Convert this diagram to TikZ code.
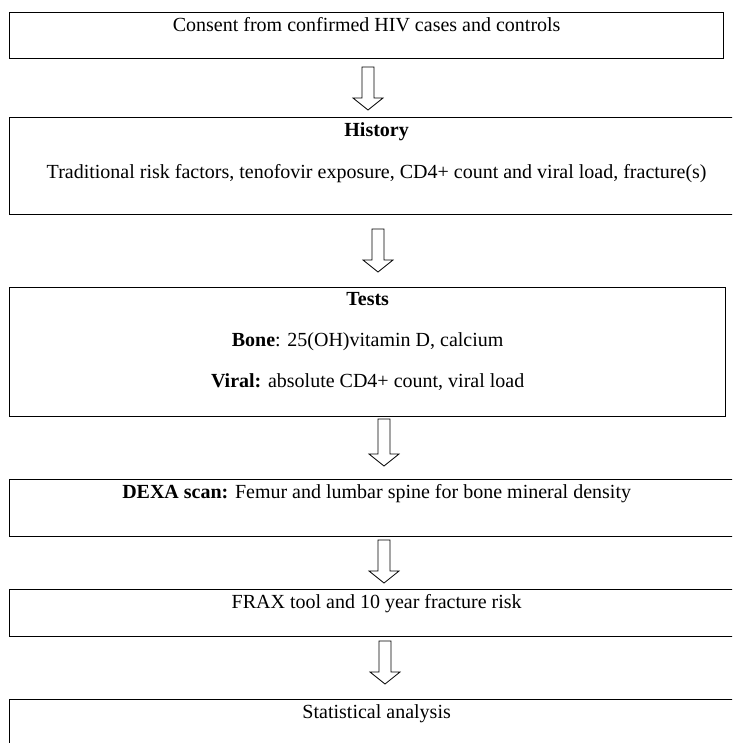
\documentclass[tikz,border=0pt]{standalone}
\usepackage{fontspec}
\setmainfont{Liberation Serif}
\usetikzlibrary{positioning}

\tikzset{
  flowbox/.style={draw, line width=1.3pt, anchor=north west, inner sep=0pt},
  flowtext/.style={inner sep=0pt, align=center, font=\fontsize{20}{22}\selectfont},
  hollowarrow/.style={draw, line width=0.8pt, fill=white, line join=miter},
}

\begin{document}
\begin{tikzpicture}[x=1pt,y=-1pt]
    \useasboundingbox (0,0) rectangle (732,743);
    \clip (0,0) rectangle (732,743);

    % boxes
    \node[flowbox, minimum width=714pt, minimum height=46pt]  (consent) at (9,12)  {};
    \node[flowbox, minimum width=734pt, minimum height=97pt]  (history) at (9,117) {};
    \node[flowbox, minimum width=716pt, minimum height=129pt] (tests)   at (9,287) {};
    \node[flowbox, minimum width=734pt, minimum height=57pt]  (dexa)    at (9,479) {};
    \node[flowbox, minimum width=734pt, minimum height=47pt]  (frax)    at (9,589) {};
    \node[flowbox, minimum width=734pt, minimum height=70pt]  (stats)   at (9,699) {};

    % texts
    \node[flowtext, below=5pt of consent.north] (consenttxt) {Consent from confirmed HIV cases and controls};
    \node[flowtext, below=5pt of history.north] (historytxt)
        {\textbf{History}\\[20pt]Traditional risk factors, tenofovir exposure, CD4+ count and viral load, fracture(s)};
    \node[flowtext, below=5pt of tests.north] (teststxt)
        {\textbf{Tests}\\[19pt]\textbf{Bone}: 25(OH)vitamin D, calcium\\[19pt]\textbf{Viral:} absolute CD4+ count, viral load};
    \node[flowtext, below=5pt of dexa.north] (dexatxt) {\textbf{DEXA scan:} Femur and lumbar spine for bone mineral density};
    \node[flowtext, below=5pt of frax.north] (fraxtxt) {FRAX tool and 10 year fracture risk};
    \node[flowtext, below=5pt of stats.north] (statstxt) {Statistical analysis};

    % block arrows between the boxes
    \foreach \x/\y/\l in {368/67/43, 378/229/43, 384/419/47, 384/540/43, 385/641/43}
        \draw[hollowarrow] (\x-6,\y) -- (\x+6,\y) -- (\x+6,\y+\l-12) -- (\x+15,\y+\l-12)
            -- (\x,\y+\l) -- (\x-15,\y+\l-12) -- (\x-6,\y+\l-12) -- cycle;
\end{tikzpicture}
\end{document}
